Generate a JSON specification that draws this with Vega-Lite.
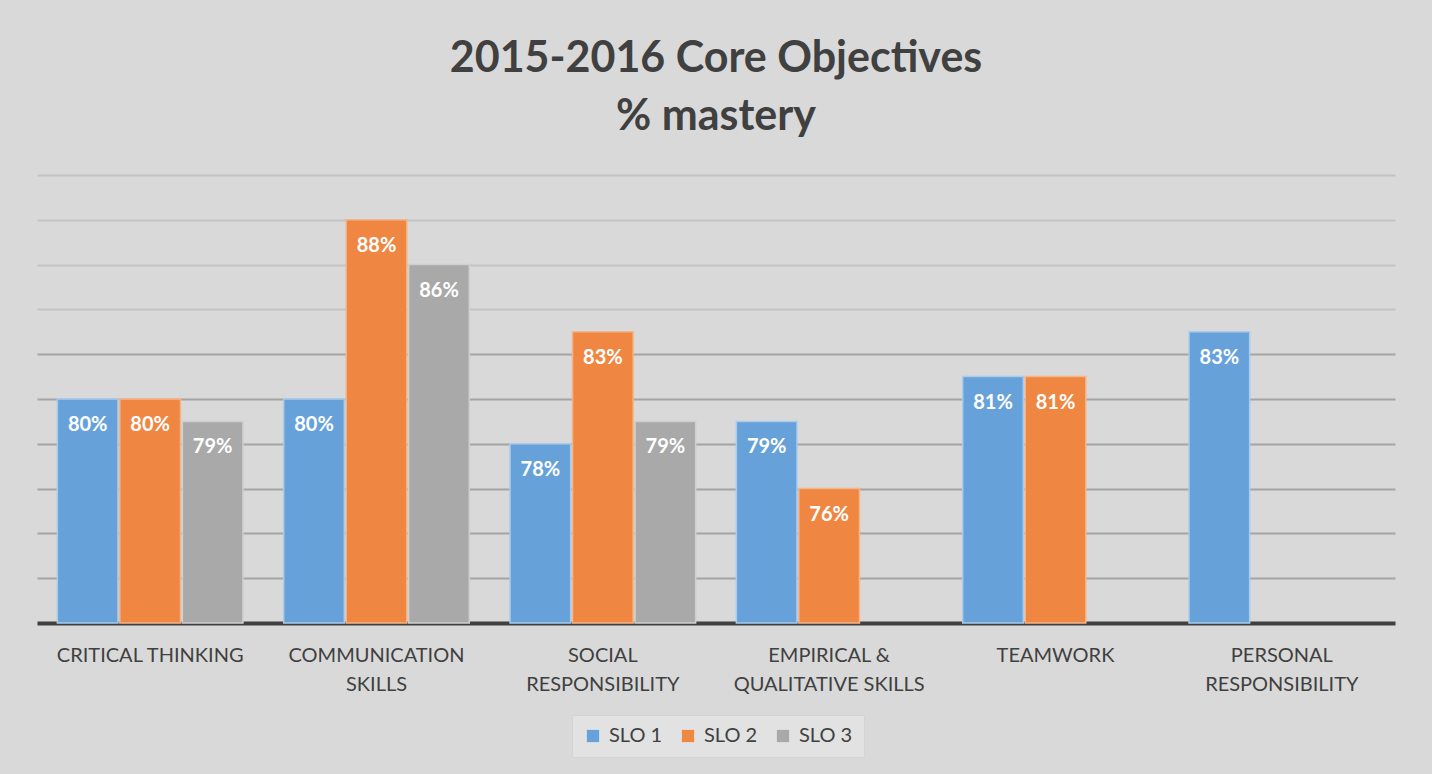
{
  "$schema": "https://vega.github.io/schema/vega-lite/v6.json",
  "autosize": {"type": "none"},
  "width": 1358,
  "height": 448,
  "padding": {"left": 37, "top": 175, "right": 37, "bottom": 151},
  "background": "#d9d9d9",
  "title": {
    "text": ["2015-2016 Core Objectives", "% mastery"],
    "anchor": "middle",
    "font": "Lato",
    "fontSize": 43,
    "fontWeight": "bold",
    "color": "#404040",
    "lineHeight": 58,
    "offset": 36
  },
  "config": {
    "view": {"stroke": null},
    "font": "Lato"
  },
  "data": {
    "values": [
      {"category": "CRITICAL THINKING", "slo": "SLO 1", "value": 0.80},
      {"category": "CRITICAL THINKING", "slo": "SLO 2", "value": 0.80},
      {"category": "CRITICAL THINKING", "slo": "SLO 3", "value": 0.79},
      {"category": "COMMUNICATION SKILLS", "slo": "SLO 1", "value": 0.80},
      {"category": "COMMUNICATION SKILLS", "slo": "SLO 2", "value": 0.88},
      {"category": "COMMUNICATION SKILLS", "slo": "SLO 3", "value": 0.86},
      {"category": "SOCIAL RESPONSIBILITY", "slo": "SLO 1", "value": 0.78},
      {"category": "SOCIAL RESPONSIBILITY", "slo": "SLO 2", "value": 0.83},
      {"category": "SOCIAL RESPONSIBILITY", "slo": "SLO 3", "value": 0.79},
      {"category": "EMPIRICAL & QUALITATIVE SKILLS", "slo": "SLO 1", "value": 0.79},
      {"category": "EMPIRICAL & QUALITATIVE SKILLS", "slo": "SLO 2", "value": 0.76},
      {"category": "TEAMWORK", "slo": "SLO 1", "value": 0.81},
      {"category": "TEAMWORK", "slo": "SLO 2", "value": 0.81},
      {"category": "PERSONAL RESPONSIBILITY", "slo": "SLO 1", "value": 0.83}
    ]
  },
  "encoding": {
    "x": {
      "field": "category",
      "type": "nominal",
      "sort": null,
      "scale": {"paddingInner": 0.18, "paddingOuter": 0.09},
      "axis": {
        "title": null,
        "labelAngle": 0,
        "labelFont": "Lato",
        "labelFontSize": 20,
        "labelColor": "#404040",
        "labelLineHeight": 29,
        "labelPadding": 22,
        "labelLimit": 0,
        "labelExpr": "datum.label == 'COMMUNICATION SKILLS' ? ['COMMUNICATION', 'SKILLS'] : datum.label == 'SOCIAL RESPONSIBILITY' ? ['SOCIAL', 'RESPONSIBILITY'] : datum.label == 'EMPIRICAL & QUALITATIVE SKILLS' ? ['EMPIRICAL &', 'QUALITATIVE SKILLS'] : datum.label == 'PERSONAL RESPONSIBILITY' ? ['PERSONAL', 'RESPONSIBILITY'] : datum.label",
        "ticks": false,
        "domain": true,
        "domainColor": "#404040",
        "domainWidth": 4,
        "labelBaseline": "top"
      }
    },
    "xOffset": {"field": "slo", "type": "nominal", "scale": {"paddingInner": 0.03, "paddingOuter": 0}},
    "y": {
      "field": "value",
      "type": "quantitative",
      "scale": {"domain": [0.70, 0.90], "zero": false, "nice": false},
      "axis": {
        "title": null,
        "labels": false,
        "ticks": false,
        "domain": false,
        "values": [0.72, 0.74, 0.76, 0.78, 0.80, 0.82, 0.84, 0.86, 0.88, 0.90],
        "grid": true,
        "gridColor": {"condition": {"test": "datum.value >= 0.835", "value": "#c4c4c4"}, "value": "#a4a4a4"},
        "gridWidth": 2
      }
    }
  },
  "layer": [
    {
      "mark": {"type": "bar", "strokeWidth": 1.5},
      "encoding": {
        "y2": {"datum": 0.70},
        "color": {
          "field": "slo",
          "type": "nominal",
          "scale": {"domain": ["SLO 1", "SLO 2", "SLO 3"], "range": ["#66a2d9", "#ef8641", "#a9a9a9"]},
          "legend": {
            "title": null,
            "orient": "none",
            "direction": "horizontal",
            "legendX": 535,
            "legendY": 540,
            "symbolType": "square",
            "symbolSize": 150,
            "symbolStrokeWidth": 0,
            "labelFont": "Lato",
            "labelFontSize": 20,
            "labelColor": "#404040",
            "columnPadding": 15,
            "labelOffset": 6,
            "padding": 11,
            "fillColor": "#e2e2e2",
            "strokeColor": "#d4d4d4"
          }
        },
        "stroke": {
          "field": "slo",
          "type": "nominal",
          "scale": {"domain": ["SLO 1", "SLO 2", "SLO 3"], "range": ["#a9cbec", "#f5b58a", "#cfcfcf"]},
          "legend": null
        }
      }
    },
    {
      "mark": {"type": "text", "baseline": "middle", "dy": 26, "color": "white", "font": "Lato", "fontSize": 20, "fontWeight": "bold"},
      "encoding": {
        "text": {"field": "value", "type": "quantitative", "format": ".0%"}
      }
    }
  ]
}
